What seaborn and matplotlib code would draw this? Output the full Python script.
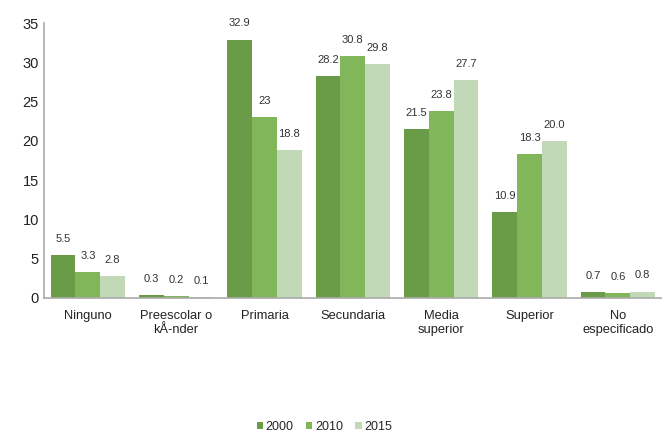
import matplotlib.pyplot as plt
import pandas as pd
import seaborn as sns

categories = ["Ninguno", "Preescolar o\nkÅ-nder", "Primaria", "Secundaria",
              "Media\nsuperior", "Superior", "No\nespecificado"]
years = ["2000", "2010", "2015"]
vals_2000 = [5.5, 0.3, 32.9, 28.2, 21.5, 10.9, 0.7]
vals_2010 = [3.3, 0.2, 23.0, 30.8, 23.8, 18.3, 0.6]
vals_2015 = [2.8, 0.1, 18.8, 29.8, 27.7, 20.0, 0.8]
labels_2000 = ["5.5", "0.3", "32.9", "28.2", "21.5", "10.9", "0.7"]
labels_2010 = ["3.3", "0.2", "23", "30.8", "23.8", "18.3", "0.6"]
labels_2015 = ["2.8", "0.1", "18.8", "29.8", "27.7", "20.0", "0.8"]
colors = ["#6a9b47", "#81b75a", "#c1d9b7"]

df = pd.DataFrame({
    "cat": categories * 3,
    "year": [y for y in years for _ in categories],
    "val": vals_2000 + vals_2010 + vals_2015,
})

sns.set_style("white")
plt.rcParams["font.family"] = ["Liberation Sans", "DejaVu Sans"]

fig = plt.figure(figsize=(6.62, 4.36), dpi=100)
ax = fig.add_axes([0.066, 0.317, 0.934, 0.63])
sns.barplot(data=df, x="cat", y="val", hue="year", palette=colors,
            width=0.84, saturation=1, linewidth=0, ax=ax, legend=True)

for cont, labs in zip(ax.containers, [labels_2000, labels_2010, labels_2015]):
    ax.bar_label(cont, labels=labs, padding=8, fontsize=8, color="#333333")

ax.set_ylim(0, 35)
ax.set_xlim(-0.5, 6.5)
ax.set_yticks(range(0, 36, 5))
ax.set_xlabel("")
ax.set_ylabel("")
ax.tick_params(axis="both", length=0, colors="#222222")
ax.tick_params(axis="y", labelsize=10.5)
ax.tick_params(axis="x", labelsize=9.3, pad=9)
for s in ["top", "right"]:
    ax.spines[s].set_visible(False)
for s in ["left", "bottom"]:
    ax.spines[s].set_color("#aaaaaa")
    ax.spines[s].set_linewidth(1.2)

ax.legend(loc="lower center", bbox_to_anchor=(0.49, -0.018),
          bbox_transform=fig.transFigure, ncol=3, frameon=False, fontsize=9,
          handlelength=0.5, handleheight=0.5, handletextpad=0.2,
          columnspacing=1.0)

fig.savefig("out.png", dpi=100)
